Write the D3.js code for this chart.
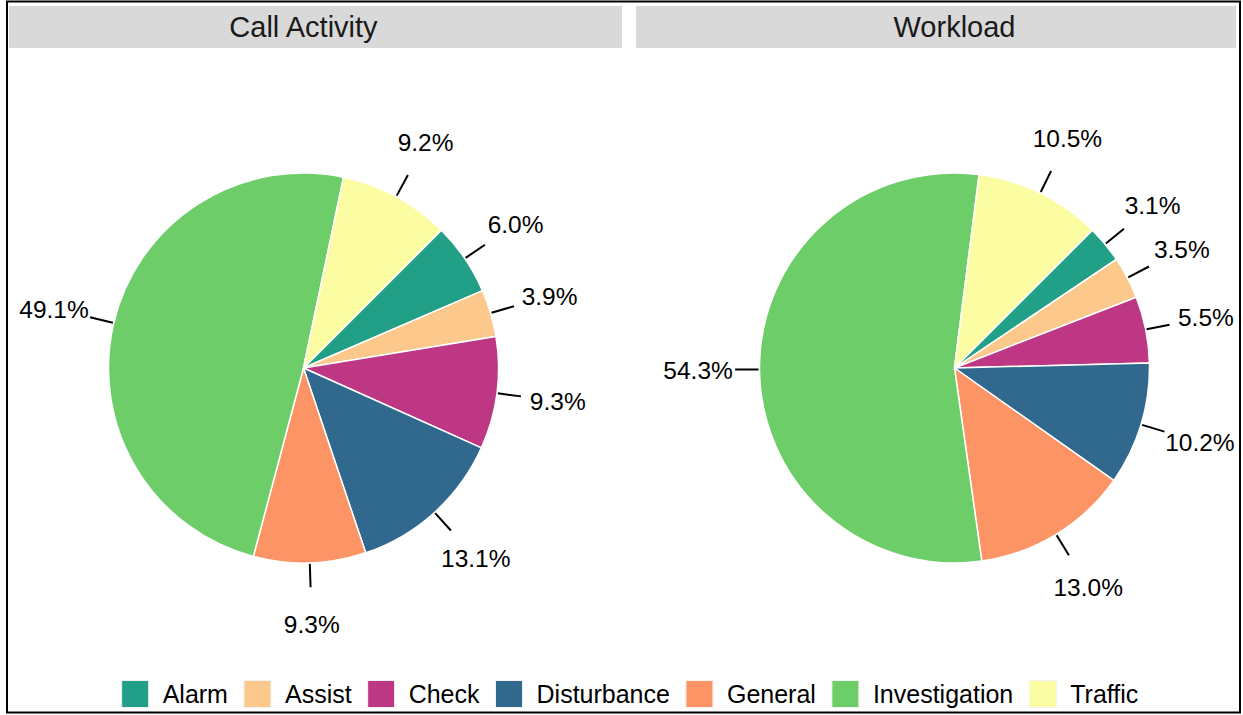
<!DOCTYPE html>
<html>
<head>
<meta charset="utf-8">
<script src="https://cdn.jsdelivr.net/npm/d3@7"></script>
<style>
  body { margin: 0; background: #fff; }
  svg { display: block; font-family: "Liberation Sans", Arial, sans-serif; }
</style>
</head>
<body>
<svg id="chart" width="1243" height="715"></svg>
<script>
// categories and values (percent)
const categories = ["Alarm", "Assist", "Check", "Disturbance", "General", "Investigation", "Traffic"];
const colors = ["#21a087", "#fdc88b", "#bd3784", "#31688e", "#fc9465", "#6dcd69", "#fcfda3"];
const panelTitles = ["Call Activity", "Workload"];
const callActivity = [6.0, 3.9, 9.3, 13.1, 9.3, 49.1, 9.2];
const workload = [3.1, 3.5, 5.5, 10.2, 13.0, 54.3, 10.5];
const panelValues = [callActivity, workload];

const W = 1243, H = 715;
const svg = d3.select('#chart');

// outer frame
svg.append('rect')
    .attr('x', 7).attr('y', 1.5)
    .attr('width', 1233).attr('height', 711)
    .attr('fill', 'none')
    .attr('stroke', '#000')
    .attr('stroke-width', 2);

const panels = [
    { stripX: 9, stripW: 613, cx: 303.5 },
    { stripX: 636, stripW: 600, cx: 954.5 }
];
const cy = 368;
const R = 195;

const color = d3.scaleOrdinal().domain(categories).range(colors);

const pie = d3.pie()
    .sort(null)
    .value(d => d.value)
    .startAngle(Math.PI / 4)
    .endAngle(Math.PI / 4 + 2 * Math.PI);

const arc = d3.arc().innerRadius(0).outerRadius(R);

panels.forEach((p, k) => {
    // strip
    svg.append('rect')
        .attr('x', p.stripX).attr('y', 6)
        .attr('width', p.stripW).attr('height', 42)
        .attr('fill', '#d9d9d9');
    svg.append('text')
        .attr('x', p.cx).attr('y', 27)
        .attr('dy', '0.36em')
        .attr('text-anchor', 'middle')
        .attr('font-size', 29)
        .attr('fill', '#1a1a1a')
        .text(panelTitles[k]);

    const data = categories.map((c, i) => ({ cat: c, value: panelValues[k][i] }));
    const g = svg.append('g').attr('transform', `translate(${p.cx},${cy})`);
    const arcs = pie(data);

    g.selectAll('path')
        .data(arcs)
        .join('path')
        .attr('d', arc)
        .attr('fill', d => color(d.data.cat))
        .attr('stroke', '#fff')
        .attr('stroke-width', 1.5);

    const mid = d => (d.startAngle + d.endAngle) / 2;
    const pt = (d, r) => [Math.sin(mid(d)) * r, -Math.cos(mid(d)) * r];

    g.selectAll('line.tick')
        .data(arcs)
        .join('line')
        .attr('class', 'tick')
        .attr('x1', d => pt(d, R * 1.005)[0])
        .attr('y1', d => pt(d, R * 1.005)[1])
        .attr('x2', d => pt(d, R * 1.125)[0])
        .attr('y2', d => pt(d, R * 1.125)[1])
        .attr('stroke', '#000')
        .attr('stroke-width', 2);

    g.selectAll('text.lab')
        .data(arcs)
        .join('text')
        .attr('class', 'lab')
        .attr('x', d => pt(d, R * 1.315)[0])
        .attr('y', d => pt(d, R * 1.315)[1])
        .attr('dy', '0.36em')
        .attr('text-anchor', 'middle')
        .attr('font-size', 24.5)
        .attr('fill', '#000')
        .text(d => d.data.value.toFixed(1) + '%');
});

// legend
const legend = svg.append('g');
const keySize = 27, keyGap = 14, itemGap = 16, legendY = 694;
let lx = 0;
categories.forEach(c => {
    const item = legend.append('g').attr('transform', `translate(${lx},0)`);
    item.append('rect')
        .attr('x', 0).attr('y', legendY - keySize / 2)
        .attr('width', keySize).attr('height', keySize)
        .attr('fill', color(c))
        .attr('stroke', '#f2f2f2')
        .attr('stroke-width', 1);
    const t = item.append('text')
        .attr('x', keySize + keyGap).attr('y', legendY)
        .attr('dy', '0.36em')
        .attr('font-size', 25)
        .attr('fill', '#000')
        .text(c);
    lx += keySize + keyGap + t.node().getComputedTextLength() + itemGap;
});
const legendW = lx - itemGap;
legend.attr('transform', `translate(${630 - legendW / 2},0)`);
</script>
</body>
</html>
